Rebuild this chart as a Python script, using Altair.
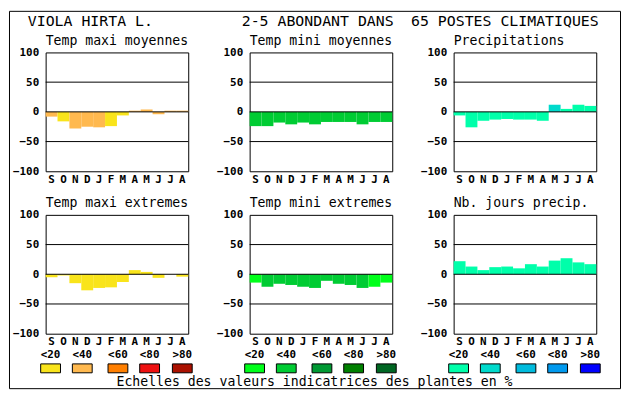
import altair as alt
import pandas as pd

# ---------------- data ----------------
MONTHS = ["S", "O", "N", "D", "J", "F", "M", "A", "M", "J", "J", "A"]
CLASSES = ["<20", "<40", "<60", "<80", ">80"]
GRID_VALUES = [-50, 0, 50]
Y_TICKS = [-100, -50, 0, 50, 100]

HEADER_LEFT = "VIOLA HIRTA L."
HEADER_MID = "2-5 ABONDANT DANS"
HEADER_RIGHT = "65 POSTES CLIMATIQUES"
FOOTNOTE = "Echelles des valeurs indicatrices des plantes en %"

TITLES = ["Temp maxi moyennes", "Temp mini moyennes", "Precipitations",
          "Temp maxi extremes", "Temp mini extremes", "Nb. jours precip."]

tmax_moy = [-8, -16, -28, -25, -26, -24, -6, 2, 4, -4, 2, 2]
tmax_moy_cls = ["<40", "<20", "<40", "<40", "<40", "<20", "<20", "<40", "<40", "<40", "<40", "<40"]

tmin_moy = [-24, -24, -18, -21, -18, -21, -17, -17, -17, -21, -17, -17]
tmin_moy_cls = ["<40"] * 12

precip = [-6, -26, -15, -13, -12, -13, -13, -15, 12, 5, 12, 10]
precip_cls = ["<20"] * 8 + ["<40"] + ["<20"] * 3

tmax_ext = [-5, -2, -15, -27, -23, -22, -13, 7, 4, -6, 0, -4]
tmax_ext_cls = ["<20"] * 12

tmin_ext = [-14, -21, -16, -18, -21, -23, -11, -16, -18, -23, -21, -14]
tmin_ext_cls = ["<20"] + ["<40"] * 9 + ["<20", "<20"]

nb_jours = [22, 13, 7, 12, 13, 10, 17, 13, 23, 27, 20, 17]
nb_jours_cls = ["<20"] * 12

# ---------------- style ----------------
WARM = ["#F9E41B", "#FFB94F", "#FF7F00", "#EE1111", "#AA1100"]
GREEN = ["#00FF1A", "#00CC33", "#009933", "#008000", "#006622"]
BLUE = ["#00FFAA", "#00DACC", "#00BBDD", "#0099EE", "#0000FF"]

FONT = "DejaVu Sans Mono"
W, H = 144, 120
LEGEND_OFFSETS = [-5, 27, 63, 95, 128]
SWATCH_W = 20

label_expr = "[" + ",".join("'%s'" % m for m in MONTHS) + "][datum.value]"


def yenc(field):
    return alt.Y(field, scale=alt.Scale(domain=[-100, 100], nice=False),
                 axis=alt.Axis(values=Y_TICKS, title=None, labelPadding=7,
                               ticks=False, tickSize=0, domain=False, grid=False))


def panel(title, vals, cls, palette, extra=()):
    cmap = dict(zip(CLASSES, palette))
    df = pd.DataFrame({"i": list(range(len(vals))), "v": vals, "c": cls,
                       "col": [cmap[c] for c in cls]})
    bars = alt.Chart(df).mark_bar(strokeWidth=0).encode(
        x=alt.X("i:O", scale=alt.Scale(paddingInner=0, paddingOuter=0),
                axis=alt.Axis(labelExpr=label_expr, title=None, labelAngle=0,
                              labelPadding=2, ticks=False, tickSize=0,
                              domain=False, grid=False)),
        y=yenc("v:Q"),
        fill=alt.Fill("col:N", scale=None, legend=None),
    )
    rules = alt.Chart(pd.DataFrame({"v": GRID_VALUES})).mark_rule(
        color="black", strokeWidth=1).encode(y=yenc("v:Q"))
    ttl = alt.Chart(pd.DataFrame({"t": [title]})).mark_text(
        align="left", baseline="alphabetic", font=FONT, fontSize=13.3, color="black"
    ).encode(x=alt.value(0), y=alt.value(-8), text="t:N")
    return alt.layer(bars, rules, ttl, *extra).properties(width=W, height=H)


def legend_layers(palette):
    ldf = pd.DataFrame({
        "lab": CLASSES,
        "col": palette,
        "px": [o for o in LEGEND_OFFSETS],
        "px2": [o + SWATCH_W for o in LEGEND_OFFSETS],
        "pc": [o + SWATCH_W / 2 for o in LEGEND_OFFSETS],
    })
    sw = alt.Chart(ldf).mark_rect(stroke="black", strokeWidth=1).encode(
        x=alt.X("px:Q", scale=None, axis=None),
        x2="px2:Q",
        y=alt.value(150.5), y2=alt.value(159.5),
        fill=alt.Fill("col:N", scale=None, legend=None),
    )
    tx = alt.Chart(ldf).mark_text(
        align="center", baseline="alphabetic", font=FONT, fontSize=11,
        fontWeight="bold", color="black"
    ).encode(x=alt.X("pc:Q", scale=None, axis=None), y=alt.value(145), text="lab:N")
    return [sw, tx]


def label(text, x, y, size, align="left"):
    return alt.Chart(pd.DataFrame({"t": [text]})).mark_text(
        align=align, baseline="alphabetic", font=FONT, fontSize=size, color="black"
    ).encode(x=alt.value(x), y=alt.value(y), text="t:N")


one = pd.DataFrame({"a": [0]})
frame = alt.Chart(one).mark_rect(fillOpacity=0, stroke="black", strokeWidth=1).encode(
    x=alt.value(-36.5), x2=alt.value(580.5), y=alt.value(-41.5), y2=alt.value(339.5))
head1 = label(HEADER_LEFT, -18, -27, 15)
head2 = label(HEADER_MID, 198, -27, 15)
head3 = label(HEADER_RIGHT, 369, -27, 15)
foot = label(FOOTNOTE, 271.5, 336.5, 13.3, align="center")

panels = [
    panel(TITLES[0], tmax_moy, tmax_moy_cls, WARM, [frame, head1, head2, head3, foot]),
    panel(TITLES[1], tmin_moy, tmin_moy_cls, GREEN),
    panel(TITLES[2], precip, precip_cls, BLUE),
    panel(TITLES[3], tmax_ext, tmax_ext_cls, WARM, legend_layers(WARM)),
    panel(TITLES[4], tmin_ext, tmin_ext_cls, GREEN, legend_layers(GREEN)),
    panel(TITLES[5], nb_jours, nb_jours_cls, BLUE, legend_layers(BLUE)),
]

chart = alt.ConcatChart(
    concat=panels, columns=3, spacing={"row": 44, "column": 62}, bounds="flush"
).properties(
    padding=0, background="white"
).configure_view(
    stroke="black", strokeWidth=1
).configure_axis(
    labelFont=FONT, labelFontSize=11, labelFontWeight="bold", labelColor="black"
)

chart.save("out.html", embed_options={"renderer": "svg", "actions": False})
